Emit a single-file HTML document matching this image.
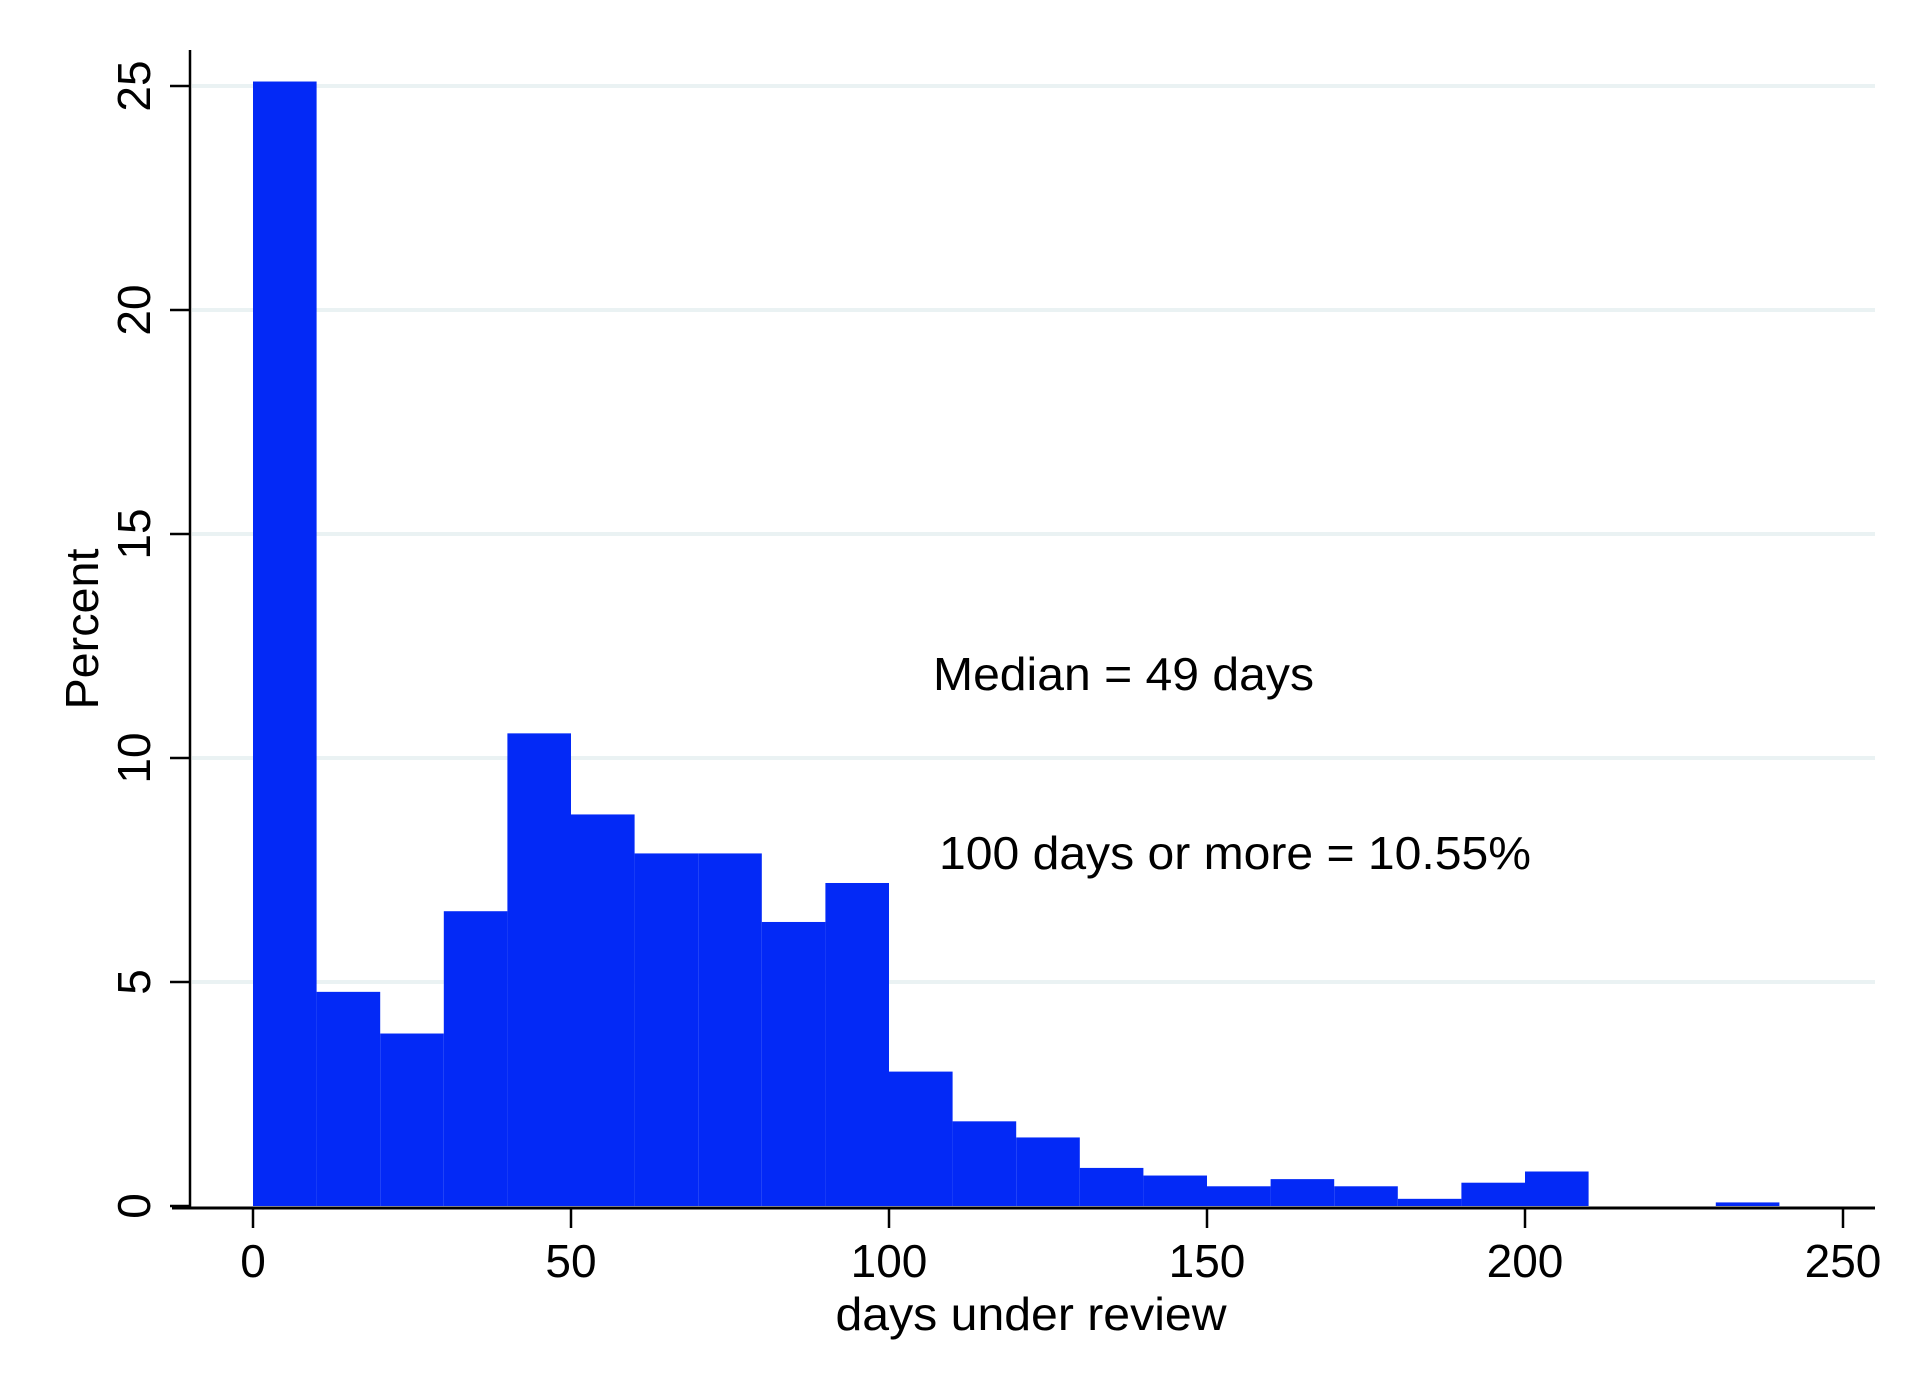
<!DOCTYPE html>
<html><head><meta charset="utf-8"><style>
html,body{margin:0;padding:0;background:#fff;}
svg{display:block;font-family:"Liberation Sans",Arial,sans-serif;}
</style></head><body>
<svg id="chart" width="1916" height="1394" viewBox="0 0 1916 1394" xmlns="http://www.w3.org/2000/svg">
<g id="grid"></g>
<g id="bars"></g>
<g id="axes"></g>
<text x="933" y="690" font-size="46" textLength="381" lengthAdjust="spacingAndGlyphs">Median = 49 days</text>
<text x="939" y="869" font-size="46" textLength="592" lengthAdjust="spacingAndGlyphs">100 days or more = 10.55%</text>
<text x="1031" y="1330" font-size="46" text-anchor="middle" textLength="391" lengthAdjust="spacingAndGlyphs">days under review</text>
<text transform="translate(98,629) rotate(-90)" font-size="46" text-anchor="middle" textLength="161" lengthAdjust="spacingAndGlyphs">Percent</text>
</svg>
<script>
const binStarts = [0,10,20,30,40,50,60,70,80,90,100,110,120,130,140,150,160,170,180,190,200,210,220,230];
const percents = [25.1,4.78,3.85,6.58,10.55,8.74,7.87,7.87,6.34,7.21,3.0,1.89,1.53,0.85,0.68,0.44,0.6,0.44,0.16,0.52,0.77,0,0,0.08];
const binWidth = 10;
const xTicks = [0,50,100,150,200,250];
const yTicks = [0,5,10,15,20,25];

const NS = 'http://www.w3.org/2000/svg';
const x = v => 253 + v * (1843 - 253) / 250;
const y = v => 1206 - v * (1206 - 86) / 25;
function mk(tag, attrs, parent){const e=document.createElementNS(NS,tag);for(const k in attrs)e.setAttribute(k,attrs[k]);parent.appendChild(e);return e;}
const grid=document.getElementById('grid'), bars=document.getElementById('bars'), axes=document.getElementById('axes');

yTicks.forEach(t=>{
  if(t>0){
    const g=mk('line',{x1:192,x2:1875,y1:y(t),y2:y(t),stroke:'#eaf2f3','stroke-width':4},grid);
    
    
  }
  const tk=mk('line',{x1:170,x2:190,y1:y(t),y2:y(t),stroke:'#000','stroke-width':2.5},axes);
  
  
  const lb=mk('text',{transform:'translate(150,'+y(t)+') rotate(-90)','font-size':46,'text-anchor':'middle'},axes);
  lb.textContent=t;
  
  
});

binStarts.forEach((s,i)=>{
  const v=percents[i];
  if(v<=0) return;
  const r=mk('rect',{x:x(s),y:y(v),width:x(s+binWidth)-x(s),height:y(0)-y(v),fill:'#0329f6'},bars);
  
  
});

const ya=mk('line',{x1:190,x2:190,y1:50,y2:1208,stroke:'#000','stroke-width':2.5},axes);


const xa=mk('line',{x1:172,x2:1875,y1:1208,y2:1208,stroke:'#000','stroke-width':3},axes);



xTicks.forEach(t=>{
  const tk=mk('line',{x1:x(t),x2:x(t),y1:1208,y2:1228,stroke:'#000','stroke-width':2.5},axes);
  
  
  const lb=mk('text',{x:x(t),y:1277,'font-size':46,'text-anchor':'middle'},axes);
  lb.textContent=t;
  
  
});
</script>
</body></html>
